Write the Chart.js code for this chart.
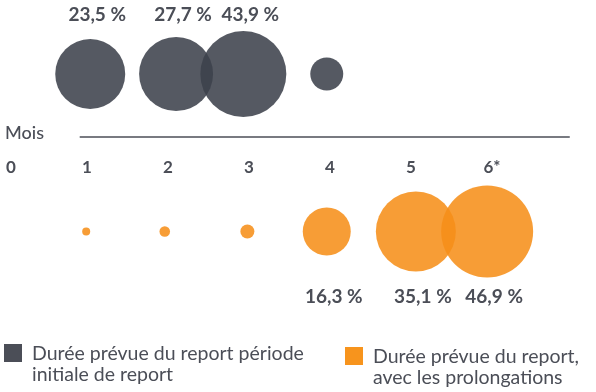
<!DOCTYPE html>
<html>
<head>
<meta charset="utf-8">
<script src="https://cdn.jsdelivr.net/npm/chart.js@4"></script>
<style>
  body { margin: 0; background: #fff; font-family: Lato, "Open Sans", sans-serif; }
  #box { position: relative; width: 596px; height: 392px; }
  #legende { position: absolute; left: 0; top: 0; width: 596px; height: 392px; pointer-events: none; }
  .item { position: absolute; display: flex; align-items: flex-start; color: #4b4e57; font-size: 19.5px; line-height: 20.5px; }
  .carre { width: 18px; height: 18px; margin-right: 10px; margin-top: 1px; flex: none; }
</style>
</head>
<body>
<div id="box">
  <canvas id="myChart" width="596" height="392"></canvas>
  <div id="legende"></div>
</div>
<script>
// mois (axe horizontal)
const mois = [0, 1, 2, 3, 4, 5, 6];
const etiquettesMois = ['0', '1', '2', '3', '4', '5', '6*'];

// période initiale de report
const moisInitial = [1.04, 2.1, 2.93, 3.96];
const tailleInitial = [35, 37, 43, 16.5];
const texteInitial = ['23,5 %', '27,7 %', '43,9 %', null];

// avec les prolongations
const moisProlonge = [0.99, 1.96, 2.98, 3.96, 5.06, 5.94];
const tailleProlonge = [4, 5.3, 7, 24, 40, 46];
const texteProlonge = [null, null, null, '16,3 %', '35,1 %', '46,9 %'];

const legendes = [
  ['Durée prévue du report période', 'initiale de report'],
  ['Durée prévue du report,', 'avec les prolongations']
];

const grisFonce = 'rgba(62,66,76,0.88)';
const orange = 'rgba(246,143,26,0.88)';
const texte = '#4b4e57';

const donnees = (xs, tailles, y) => xs.map((x, i) => ({ x: x, y: y, r: tailles[i] }));

// axe des mois, libellés des pourcentages et "Mois"
const decor = {
  id: 'decor',
  afterDatasetsDraw(chart) {
    const ctx = chart.ctx;
    const xs = chart.scales.x, ys = chart.scales.y;
    const y0 = ys.getPixelForValue(0);
    ctx.save();
    ctx.strokeStyle = texte;
    ctx.lineWidth = 1.3;
    ctx.beginPath();
    ctx.moveTo(xs.getPixelForValue(0.91), y0);
    ctx.lineTo(xs.getPixelForValue(6.96), y0);
    ctx.stroke();

    ctx.fillStyle = texte;
    ctx.textBaseline = 'middle';
    ctx.textAlign = 'left';
    ctx.font = '500 18px Lato';
    ctx.fillText('Mois', 5, y0 - 4);

    ctx.font = 'bold 17px Lato';
    mois.forEach((m, i) => {
      // le "0" est calé à gauche, les autres centrés
      ctx.textAlign = i === 0 ? 'left' : 'center';
      ctx.fillText(etiquettesMois[i], xs.getPixelForValue(m), y0 + 31);
    });

    ctx.textAlign = 'center';
    ctx.font = 'bold 19px Lato';
    [[0, texteInitial, -59], [1, texteProlonge, 65]].forEach(([d, txt, dy]) => {
      chart.getDatasetMeta(d).data.forEach((pt, i) => {
        if (txt[i]) ctx.fillText(txt[i], pt.x + 7, pt.y + dy);
      });
    });
    ctx.restore();
  }
};

const myChart = new Chart('myChart', {
  type: 'bubble',
  data: {
    datasets: [{
      label: legendes[0],
      data: donnees(moisInitial, tailleInitial, 1),
      backgroundColor: grisFonce,
      borderWidth: 0,
      clip: false
    }, {
      label: legendes[1],
      data: donnees(moisProlonge, tailleProlonge, -1.5),
      backgroundColor: orange,
      borderWidth: 0,
      clip: false
    }]
  },
  options: {
    responsive: false,
    animation: false,
    events: [],
    layout: { padding: 0, autoPadding: false },
    plugins: { legend: { display: false }, tooltip: { enabled: false } },
    scales: {
      x: { type: 'linear', display: false, min: -0.074, max: 7.284 },
      y: { display: false, min: -4.048, max: 2.175 }
    }
  },
  plugins: [decor]
});

// légende HTML à partir des jeux de données
const legende = document.getElementById('legende');
const placements = [[4, 343], [345, 346]];
myChart.data.datasets.forEach((ds, i) => {
  const item = document.createElement('div');
  item.className = 'item';
  item.style.left = placements[i][0] + 'px';
  item.style.top = placements[i][1] + 'px';
  const carre = document.createElement('div');
  carre.className = 'carre';
  carre.style.background = i === 0 ? '#4b4e57' : '#f7941d';
  const lib = document.createElement('div');
  lib.innerHTML = ds.label.join('<br>');
  item.appendChild(carre);
  item.appendChild(lib);
  legende.appendChild(item);
});
</script>
</body>
</html>
